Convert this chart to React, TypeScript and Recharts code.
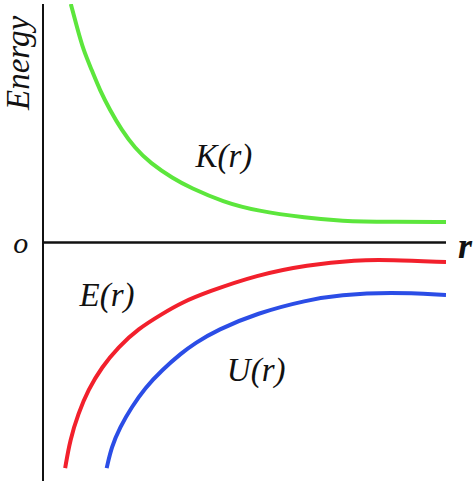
import React from 'react'
import {
  LineChart,
  Line,
  XAxis,
  YAxis,
  ReferenceLine,
  ReferenceDot,
} from 'recharts'

// r positions (arbitrary units, 0..10) and energies (-10..10)
const kineticR = [0.69, 0.84, 1.0, 1.21, 1.41, 1.66, 1.95, 2.28, 2.66, 3.23, 3.65, 4.47, 5.31, 6.55, 7.37, 8.61, 10]
const kineticE = [10.0, 9.05, 8.07, 7.23, 6.39, 5.56, 4.72, 3.96, 3.33, 2.68, 2.3, 1.7, 1.32, 1.03, 0.9, 0.86, 0.86]

const totalR = [0.55, 0.67, 0.88, 1.12, 1.46, 1.87, 2.36, 2.95, 3.44, 4.07, 5.31, 6.55, 7.79, 8.61, 10]
const totalE = [-9.46, -8.28, -7.15, -6.18, -5.22, -4.38, -3.62, -3.0, -2.52, -2.08, -1.36, -0.94, -0.73, -0.73, -0.82]

const potentialR = [1.58, 1.7, 1.91, 2.2, 2.53, 2.95, 3.44, 3.77, 4.32, 5.31, 6.55, 7.37, 8.61, 10]
const potentialE = [-9.46, -8.57, -7.74, -6.9, -6.1, -5.35, -4.63, -4.22, -3.67, -2.96, -2.41, -2.2, -2.08, -2.2]

const curveLabels = [
  { text: 'K(r)', r: 4.49, e: 3.63 },
  { text: 'E(r)', r: 1.59, e: -2.2 },
  { text: 'U(r)', r: 5.29, e: -5.35 },
]

const toPoints = (rs: number[], es: number[]) => rs.map((r, i) => ({ r, e: es[i] }))

const FONT = '"Times New Roman", "Liberation Serif", "DejaVu Serif", serif'

function textAt(value: string, opts: { size?: number; bold?: boolean; angle?: number } = {}) {
  const { size = 32, bold = false, angle = 0 } = opts
  return (props: any) => {
    const vb = props.viewBox || {}
    const cx = vb.x + (vb.width || 0) / 2
    const cy = vb.y + (vb.height || 0) / 2
    return (
      <text
        x={cx}
        y={cy}
        textAnchor="middle"
        dominantBaseline="central"
        fontFamily={FONT}
        fontStyle="italic"
        fontWeight={bold ? 'bold' : 'normal'}
        fontSize={size}
        fill="#111"
        transform={angle ? `rotate(${angle} ${cx} ${cy})` : undefined}
      >
        {value}
      </text>
    )
  }
}

export default function App() {
  return (
    <div style={{ position: 'absolute', left: 0, top: 0, background: '#fff' }}>
      <LineChart width={475} height={483} margin={{ top: 4, right: 29, bottom: 2, left: 43 }}>
        <XAxis type="number" dataKey="r" domain={[0, 10]} hide allowDataOverflow />
        <YAxis type="number" dataKey="e" domain={[-10, 10]} hide allowDataOverflow />

        <ReferenceLine x={0} stroke="#111" strokeWidth={2} />
        <ReferenceLine y={0} stroke="#111" strokeWidth={2.5} />

        <Line data={toPoints(kineticR, kineticE)} dataKey="e" type="basis" stroke="#5ce63c" strokeWidth={4} dot={false} isAnimationActive={false} />
        <Line data={toPoints(totalR, totalE)} dataKey="e" type="basis" stroke="#f2202c" strokeWidth={4} dot={false} isAnimationActive={false} />
        <Line data={toPoints(potentialR, potentialE)} dataKey="e" type="basis" stroke="#2b4de6" strokeWidth={4} dot={false} isAnimationActive={false} />

        {curveLabels.map((l) => (
          <ReferenceDot key={l.text} x={l.r} y={l.e} r={0} fill="none" stroke="none" label={textAt(l.text, { size: 33 })} />
        ))}

        {/* axis captions */}
        <ReferenceDot x={-0.55} y={0} r={0} fill="none" stroke="none" ifOverflow="visible" label={textAt('o', { size: 30 })} />
        <ReferenceDot x={10.47} y={-0.15} r={0} fill="none" stroke="none" ifOverflow="visible" label={textAt('r', { size: 36, bold: true })} />
        <ReferenceDot x={-0.62} y={7.53} r={0} fill="none" stroke="none" ifOverflow="visible" label={textAt('Energy', { size: 33, angle: -90 })} />
      </LineChart>
    </div>
  )
}
